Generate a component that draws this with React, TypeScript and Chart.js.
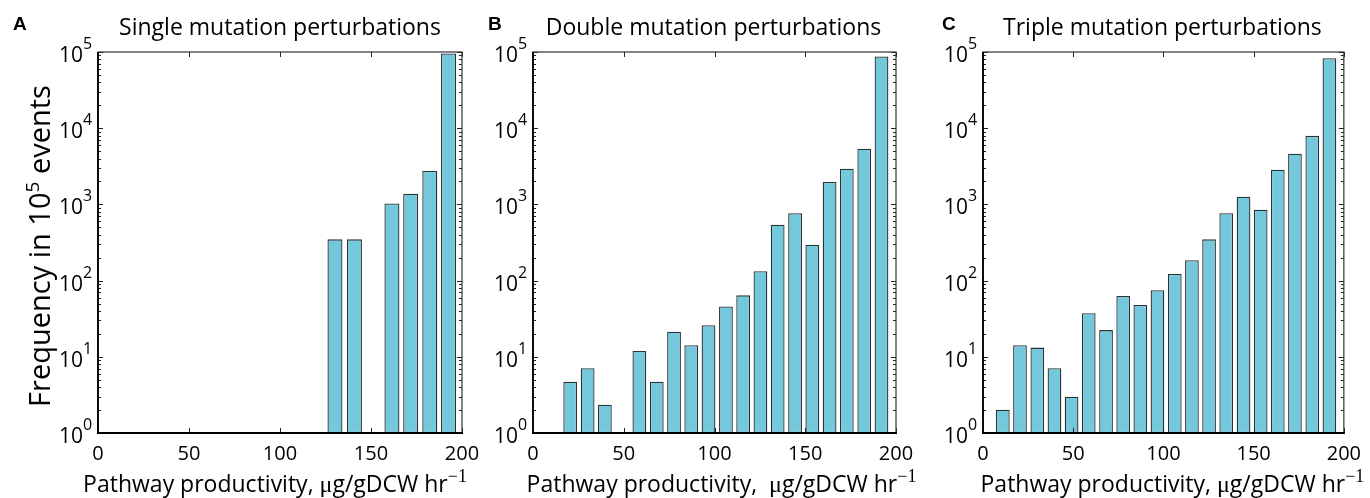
import React, { useEffect, useRef } from "react";
import { Chart, registerables } from "chart.js";

Chart.register(...registerables);

// ---------- data ----------
const X_TICKS = [0, 50, 100, 150, 200];
const Y_POWERS = [0, 1, 2, 3, 4, 5];
const MINOR_MULTS = [2, 3, 4, 5, 6, 7, 8, 9];

const SINGLE_BINS = [130.2, 140.9, 161.5, 171.8, 182.3, 192.6];
const SINGLE_COUNTS = [348, 348, 1030, 1380, 2740, 95500];

const DOUBLE_BINS = [
  20.5, 30.1, 39.6, 58.6, 68.2, 77.7, 87.2, 96.7, 106.3, 115.8, 125.3, 134.8,
  144.4, 153.9, 163.4, 172.9, 182.5, 192.0,
];
const DOUBLE_COUNTS = [
  4.7, 7.1, 2.35, 11.9, 4.7, 21.3, 14.2, 26, 45.7, 64, 133, 542, 764, 296, 1970,
  2940, 5370, 87300,
];

const TRIPLE_BINS = [
  11.0, 20.5, 30.1, 39.6, 49.1, 58.6, 68.2, 77.7, 87.2, 96.7, 106.3, 115.8,
  125.3, 134.8, 144.4, 153.9, 163.4, 172.9, 182.5, 192.0,
];
const TRIPLE_COUNTS = [
  2.02, 14.2, 13.2, 7.1, 3.0, 37.4, 22.4, 63, 48, 74.8, 122, 185, 348, 764,
  1260, 852, 2850, 4620, 7940, 83000,
];

const LETTERS = ["A", "B", "C"];
const TITLES = [
  "Single mutation perturbations",
  "Double mutation perturbations",
  "Triple mutation perturbations",
];
const X_TITLE_HEAD = ["Pathway productivity, ", "Pathway productivity,  ", "Pathway productivity, "];
const X_TITLE_TAIL = "g/gDCW hr";
const Y_TITLE_HEAD = "Frequency in 10";
const Y_TITLE_SUP = "5";
const Y_TITLE_TAIL = " events";

// ---------- layout / style ----------
const W = 1370;
const H = 498;
const PLOT_TOP = 52;
const PLOT_BOTTOM = 433;
const X_AXIS_H = 34;
const PANELS = [
  { left: 98, right: 462, letterX: 13, titleShift: 0, xTitleShift: -5 },
  { left: 533, right: 896, letterX: 488, titleShift: -1, xTitleShift: 7 },
  { left: 983, right: 1347, letterX: 942, titleShift: -1, xTitleShift: 9 },
];
const SANS = "'Open Sans', 'Noto Sans', sans-serif";
const SERIF = "'Liberation Serif', 'DejaVu Serif', serif";
const BAR_FILL = "#74c8db";
const BAR_EDGE = "#2a3336";

function drawSegments(
  ctx: CanvasRenderingContext2D,
  segs: { t: string; f: string; dy: number }[],
  cx: number,
  baseline: number
) {
  let total = 0;
  segs.forEach((s) => {
    ctx.font = s.f;
    total += ctx.measureText(s.t).width;
  });
  let xx = cx - total / 2;
  ctx.textAlign = "left";
  ctx.textBaseline = "alphabetic";
  segs.forEach((s) => {
    ctx.font = s.f;
    ctx.fillText(s.t, xx, baseline + s.dy);
    xx += ctx.measureText(s.t).width;
  });
}

function makePlugin(idx: number) {
  return {
    id: "matlabFrame" + idx,
    afterDatasetsDraw(chart: any) {
      const { ctx, chartArea: a, scales } = chart;
      const x = scales.x;
      const y = scales.y;
      ctx.save();
      ctx.strokeStyle = "#222";
      ctx.lineWidth = 1;
      ctx.beginPath();
      X_TICKS.forEach((v) => {
        const px = Math.round(x.getPixelForValue(v)) + 0.5;
        ctx.moveTo(px, a.bottom);
        ctx.lineTo(px, a.bottom - 5);
        ctx.moveTo(px, a.top);
        ctx.lineTo(px, a.top + 5);
      });
      Y_POWERS.forEach((p) => {
        const py = Math.round(y.getPixelForValue(Math.pow(10, p))) + 0.5;
        ctx.moveTo(a.left, py);
        ctx.lineTo(a.left + 5, py);
        ctx.moveTo(a.right, py);
        ctx.lineTo(a.right - 5, py);
        if (p < 5) {
          MINOR_MULTS.forEach((m) => {
            const my = Math.round(y.getPixelForValue(m * Math.pow(10, p))) + 0.5;
            ctx.moveTo(a.left, my);
            ctx.lineTo(a.left + 3, my);
            ctx.moveTo(a.right, my);
            ctx.lineTo(a.right - 3, my);
          });
        }
      });
      ctx.stroke();
      // box
      ctx.strokeStyle = "#333";
      ctx.lineWidth = 1.2;
      ctx.strokeRect(a.left, a.top, a.right - a.left, a.bottom - a.top);
      ctx.strokeStyle = "#000";
      ctx.lineWidth = 2.2;
      ctx.beginPath();
      ctx.moveTo(a.left - 1, a.bottom);
      ctx.lineTo(a.right + 1, a.bottom);
      ctx.stroke();
      ctx.lineWidth = 1.8;
      ctx.beginPath();
      ctx.moveTo(a.left, a.top);
      ctx.lineTo(a.left, a.bottom);
      ctx.stroke();
      ctx.restore();
    },
    afterDraw(chart: any) {
      const { ctx, chartArea: a, scales } = chart;
      const y = scales.y;
      const cx = (a.left + a.right) / 2;
      ctx.save();
      ctx.fillStyle = "#000";
      // y tick labels 10^p
      Y_POWERS.forEach((p) => {
        const py = y.getPixelForValue(Math.pow(10, p));
        ctx.textBaseline = "alphabetic";
        ctx.font = `21px ${SANS}`;
        ctx.textAlign = "right";
        ctx.fillText("10", a.left - 15, py + 10);
        ctx.font = `16px ${SANS}`;
        ctx.textAlign = "left";
        ctx.fillText(String(p), a.left - 15, py - 3);
      });
      // panel letter
      ctx.font = `bold 19px 'Liberation Sans', Arial, sans-serif`;
      ctx.textAlign = "left";
      ctx.fillText(LETTERS[idx], PANELS[idx].letterX, 30);
      // title
      ctx.font = `23px ${SANS}`;
      ctx.textAlign = "center";
      ctx.fillText(TITLES[idx], cx + PANELS[idx].titleShift, 35);
      // x title
      drawSegments(
        ctx,
        [
          { t: X_TITLE_HEAD[idx], f: `23px ${SANS}`, dy: 0 },
          { t: "\u03bc", f: `24px ${SERIF}`, dy: 0 },
          { t: X_TITLE_TAIL, f: `23px ${SANS}`, dy: 0 },
          { t: "\u22121", f: `18px ${SERIF}`, dy: -10 },
        ],
        cx + PANELS[idx].xTitleShift,
        492
      );
      // y title (panel A only)
      if (idx === 0) {
        ctx.save();
        ctx.translate(50, 246);
        ctx.rotate(-Math.PI / 2);
        drawSegments(
          ctx,
          [
            { t: Y_TITLE_HEAD, f: `29px ${SANS}`, dy: 0 },
            { t: Y_TITLE_SUP, f: `19px ${SANS}`, dy: -11 },
            { t: Y_TITLE_TAIL, f: `29px ${SANS}`, dy: 0 },
          ],
          0,
          0
        );
        ctx.restore();
      }
      ctx.restore();
    },
  };
}

function Panel({ idx, bins, counts }: { idx: number; bins: number[]; counts: number[] }) {
  const ref = useRef<HTMLCanvasElement | null>(null);
  useEffect(() => {
    if (!ref.current) return;
    const p = PANELS[idx];
    const chart = new Chart(ref.current, {
      type: "bar",
      data: {
        datasets: [
          {
            data: bins.map((b, i) => ({ x: b, y: counts[i] })),
            backgroundColor: BAR_FILL,
            borderColor: BAR_EDGE,
            borderWidth: 1.3,
            borderSkipped: false,
            barPercentage: 0.8,
            categoryPercentage: 1,
          } as any,
        ],
      },
      options: {
        responsive: false,
        animation: false,
        events: [],
        layout: {
          padding: {
            left: p.left,
            right: W - p.right,
            top: PLOT_TOP,
            bottom: H - PLOT_BOTTOM - X_AXIS_H,
          },
        },
        plugins: {
          legend: { display: false },
          tooltip: { enabled: false },
          title: { display: false },
        },
        scales: {
          x: {
            type: "linear",
            min: 0,
            max: 200,
            offset: false,
            grid: { display: false, drawTicks: false },
            border: { display: false },
            ticks: {
              stepSize: 50,
              autoSkip: false,
              maxRotation: 0,
              minRotation: 0,
              padding: 9,
              color: "#000",
              font: { family: SANS, size: 20 },
            },
            afterBuildTicks: (s: any) => {
              s.ticks = X_TICKS.map((v) => ({ value: v }));
            },
            afterFit: (s: any) => {
              s.height = X_AXIS_H;
            },
          },
          y: {
            type: "logarithmic",
            min: 1,
            max: 100000,
            grid: { display: false, drawTicks: false },
            border: { display: false },
            ticks: { display: false },
            afterFit: (s: any) => {
              s.width = 0;
            },
          },
        },
      } as any,
      plugins: [makePlugin(idx)],
    });
    return () => chart.destroy();
  }, [idx, bins, counts]);
  return (
    <canvas
      ref={ref}
      width={W}
      height={H}
      style={{ position: "absolute", left: 0, top: 0, width: W, height: H }}
    />
  );
}

export default function App() {
  return (
    <div
      style={{
        position: "fixed",
        left: 0,
        top: 0,
        width: W,
        height: H,
        background: "#fff",
        overflow: "hidden",
      }}
    >
      <Panel idx={0} bins={SINGLE_BINS} counts={SINGLE_COUNTS} />
      <Panel idx={1} bins={DOUBLE_BINS} counts={DOUBLE_COUNTS} />
      <Panel idx={2} bins={TRIPLE_BINS} counts={TRIPLE_COUNTS} />
    </div>
  );
}
